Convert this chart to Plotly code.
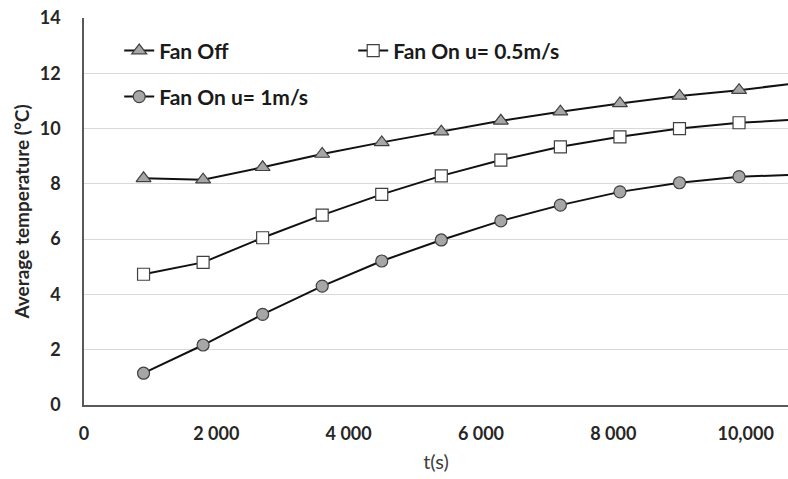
import plotly.graph_objects as go

t_s = [900, 1800, 2700, 3600, 4500, 5400, 6300, 7200, 8100, 9000, 9900, 10800]
fan_off = [8.20, 8.15, 8.60, 9.08, 9.50, 9.89, 10.28, 10.61, 10.91, 11.18, 11.39, 11.65]
fan_05 = [4.73, 5.16, 6.05, 6.87, 7.62, 8.29, 8.86, 9.34, 9.70, 10.00, 10.21, 10.33]
fan_1 = [1.15, 2.17, 3.28, 4.30, 5.21, 5.97, 6.66, 7.23, 7.71, 8.04, 8.26, 8.33]

x_ticks = [0, 2000, 4000, 6000, 8000, 10000]
x_ticktext = ["0", "2 000", "4 000", "6 000", "8 000", "10,000"]
y_ticks = [0, 2, 4, 6, 8, 10, 12, 14]

FONT = "Lato"
LINE = dict(color="#111111", width=2)
OUT = dict(color="#404040", width=1.2)

fig = go.Figure()
fig.add_trace(go.Scatter(x=t_s, y=fan_off, mode="lines+markers", name="<b>Fan Off</b>",
                         line=LINE, legend="legend",
                         marker=dict(symbol="triangle-up", size=13, color="#a6a6a6", line=OUT)))
fig.add_trace(go.Scatter(x=t_s, y=fan_05, mode="lines+markers", name="<b>Fan On u= 0.5m/s</b>",
                         line=LINE, legend="legend",
                         marker=dict(symbol="square", size=12, color="#ffffff", line=OUT)))
fig.add_trace(go.Scatter(x=t_s, y=fan_1, mode="lines+markers", name="<b>Fan On u= 1m/s</b>",
                         line=LINE, legend="legend2",
                         marker=dict(symbol="circle", size=12, color="#a6a6a6", line=OUT)))

fig.update_layout(
    width=788, height=479,
    margin=dict(l=84, r=0, t=18, b=74),
    paper_bgcolor="white", plot_bgcolor="white",
    font=dict(family=FONT, color="#262626"),
    showlegend=True,
    legend=dict(orientation="h", x=0.05, y=0.968, xanchor="left", yanchor="top",
                entrywidth=189, entrywidthmode="pixels",
                font=dict(size=21, color="#1a1a1a", family=FONT),
                bgcolor="rgba(0,0,0,0)", traceorder="normal"),
    legend2=dict(orientation="h", x=0.05, y=0.849, xanchor="left", yanchor="top",
                 font=dict(size=21, color="#1a1a1a", family=FONT),
                 bgcolor="rgba(0,0,0,0)"),
    xaxis=dict(range=[0, 10640], tickvals=x_ticks, ticktext=x_ticktext,
               showgrid=False, zeroline=False, showline=True, linecolor="#595959", linewidth=1.5,
               ticks="", ticklabelstandoff=12,
               tickfont=dict(size=18, family=FONT, weight="bold", color="#262626"),
               title=dict(text="t(s)", font=dict(size=20, family=FONT, color="#404040"), standoff=12)),
    yaxis=dict(range=[0, 14], tickvals=y_ticks, showgrid=True, gridcolor="#d9d9d9", gridwidth=1,
               zeroline=False, showline=True, linecolor="#595959", linewidth=1.5,
               ticks="", ticklabelstandoff=18,
               tickfont=dict(size=18, family=FONT, weight="bold", color="#262626"),
               title=dict(text="Average temperature (°C)",
                          font=dict(size=19, family=FONT, weight="bold", color="#262626"), standoff=5)),
)

fig.write_html("out.html")
